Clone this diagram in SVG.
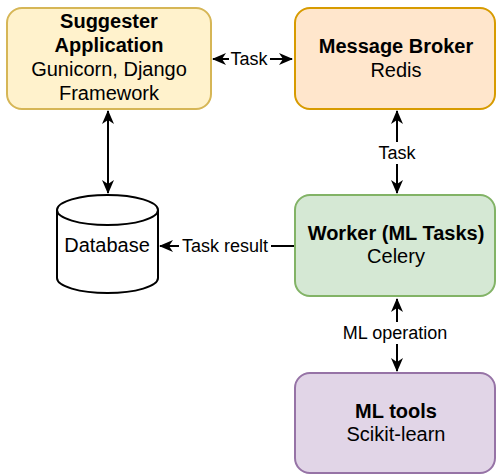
<svg xmlns="http://www.w3.org/2000/svg" width="496" height="474" viewBox="0 0 496 474">
<defs>
<marker id="arr" markerUnits="userSpaceOnUse" markerWidth="14" markerHeight="12" viewBox="0 0 14 12" refX="13" refY="6" orient="auto-start-reverse">
<path d="M0,0 L14,6 L0,12 L4,6 Z" fill="#000"/>
</marker>
</defs>
<style>
text{font-family:"Liberation Sans",Arial,sans-serif;fill:#000;text-anchor:middle}
.n{font-size:20px}
.b{font-size:20px;font-weight:bold}
.l{font-size:18px}
.box{stroke-width:2}
.c{stroke:#000;stroke-width:2;fill:none}
.bg{fill:#fff}
</style>
<rect width="496" height="474" fill="#fff"/>
<g id="connectors">
<line class="c" x1="213" y1="59" x2="292" y2="59" marker-start="url(#arr)" marker-end="url(#arr)"/>
<rect class="bg" x="229" y="47" width="41" height="24"/>
<text class="l" x="249" y="65">Task</text>
<line class="c" x1="397" y1="111" x2="397" y2="193" marker-start="url(#arr)" marker-end="url(#arr)"/>
<rect class="bg" x="376" y="142" width="42" height="22"/>
<text class="l" x="397" y="159">Task</text>
<line class="c" x1="108" y1="111" x2="108" y2="193" marker-start="url(#arr)" marker-end="url(#arr)"/>
<line class="c" x1="294" y1="246" x2="160" y2="246" marker-end="url(#arr)"/>
<rect class="bg" x="179" y="235" width="92" height="22"/>
<text class="l" x="225" y="252">Task result</text>
<line class="c" x1="397" y1="299" x2="397" y2="371" marker-start="url(#arr)" marker-end="url(#arr)"/>
<rect class="bg" x="340" y="322" width="112" height="22"/>
<text class="l" x="395" y="339">ML operation</text>
</g>
<g id="suggester">
<rect class="box" x="7" y="8" width="204" height="101" rx="15" fill="#fff2cc" stroke="#d6b656"/>
<text class="b" x="109" y="28">Suggester</text>
<text class="b" x="109" y="52">Application</text>
<text class="n" x="109" y="76">Gunicorn, Django</text>
<text class="n" x="109" y="100">Framework</text>
</g>
<g id="broker">
<rect class="box" x="295" y="8" width="200" height="101" rx="15" fill="#ffe6cc" stroke="#d79b00"/>
<text class="b" x="396" y="53">Message Broker</text>
<text class="n" x="396" y="77">Redis</text>
</g>
<g id="database">
<path d="M57,210 A50.5,15 0 0 1 158,210 L158,278 A50.5,15 0 0 1 57,278 Z" fill="#fff" stroke="#000" stroke-width="2"/>
<path d="M57,210 A50.5,15 0 0 0 158,210" fill="none" stroke="#000" stroke-width="2"/>
<text class="n" x="107" y="252">Database</text>
</g>
<g id="worker">
<rect class="box" x="295" y="195" width="200" height="101" rx="15" fill="#d5e8d4" stroke="#82b366"/>
<text class="b" x="396" y="240">Worker (ML Tasks)</text>
<text class="n" x="396" y="263">Celery</text>
</g>
<g id="mltools">
<rect class="box" x="295" y="373" width="200" height="100" rx="15" fill="#e1d5e7" stroke="#9673a6"/>
<text class="b" x="396" y="418">ML tools</text>
<text class="n" x="396" y="441">Scikit-learn</text>
</g>
</svg>
